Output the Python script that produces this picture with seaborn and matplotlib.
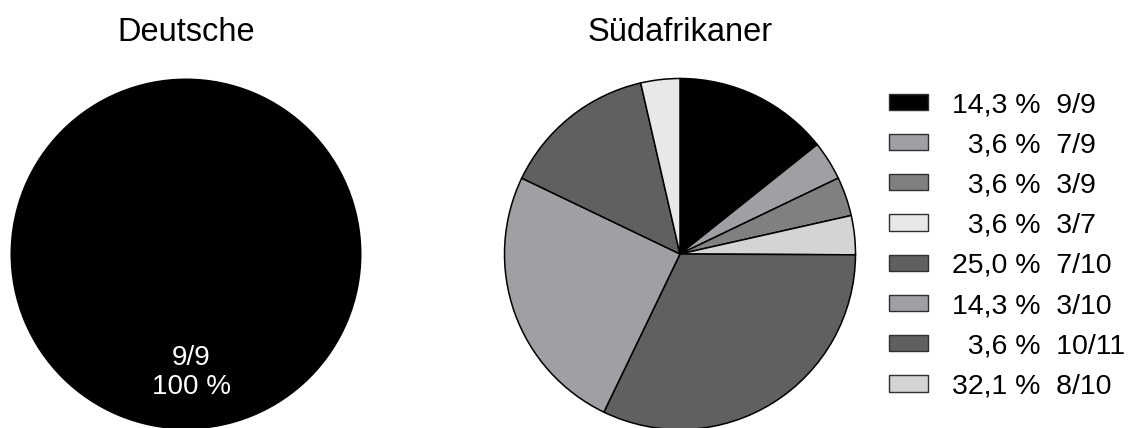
import matplotlib
matplotlib.use("Agg")
import matplotlib.pyplot as plt
from matplotlib.patches import Patch
import seaborn as sns

# Daten
de_values = [100.0]
de_label = "9/9"

sa_values = [14.3, 3.6, 3.6, 3.6, 32.1, 25.0, 14.3, 3.6]
sa_colors = ["#000000", "#a0a0a4", "#808080", "#d4d4d4",
             "#606060", "#a0a0a4", "#606060", "#e8e8e8"]

legend_pct = [14.3, 3.6, 3.6, 3.6, 25.0, 14.3, 3.6, 32.1]
legend_names = ["9/9", "7/9", "3/9", "3/7", "7/10", "3/10", "10/11", "8/10"]
legend_colors = ["#000000", "#a0a0a4", "#808080", "#e8e8e8",
                 "#606060", "#a0a0a4", "#606060", "#d4d4d4"]

sns.set_theme(style="white")
plt.rcParams["font.family"] = ["Liberation Sans", "DejaVu Sans"]
plt.rcParams["text.color"] = "black"

W, H = 1134, 428
fig = plt.figure(figsize=(W / 100, H / 100), dpi=100)

def pie_axes(cx, cy, r):
    # Achse in Pixeln um den Kreismittelpunkt legen
    return fig.add_axes([(cx - r) / W, (H - cy - r) / H, 2 * r / W, 2 * r / H])

# Deutsche
ax1 = pie_axes(186, 254, 175.5)
ax1.pie(de_values, colors=["#000000"], startangle=90, counterclock=False,
        radius=1, wedgeprops=dict(linewidth=0))
pct_txt = f"{de_values[0]:.0f} %"
ax1.text(0.03, -0.675, f"{de_label}\n{pct_txt}", color="white", ha="center",
         va="center", fontsize=20, linespacing=1.15)
ax1.set_xlim(-1, 1)
ax1.set_ylim(-1, 1)
ax1.set_title("Deutsche", fontsize=23.5, pad=27, color="black")

# Südafrikaner
ax2 = pie_axes(680, 254, 175.5)
ax2.pie(sa_values, colors=sa_colors, startangle=90, counterclock=False,
        radius=1, wedgeprops=dict(edgecolor="black", linewidth=1.1))
ax2.set_xlim(-1, 1)
ax2.set_ylim(-1, 1)
ax2.set_title("Südafrikaner", fontsize=23.5, pad=27, color="black")

labels = []
for p, n in zip(legend_pct, legend_names):
    s = f"{p:.1f}".replace(".", ",") + " %"
    if p < 10:
        s = "  " + s  # zwei Leerzeichen = eine Ziffernbreite
    labels.append(f"{s}  {n}")

handles = [Patch(facecolor=c, edgecolor="#303030", linewidth=1) for c in legend_colors]
fig.legend(handles, labels, loc="upper left",
           bbox_to_anchor=(889 / W, (H - 92) / H), frameon=False,
           fontsize=20.5, labelcolor="black", handlelength=1.36, handleheight=0.5,
           handletextpad=0.85, labelspacing=0.5, borderpad=0, borderaxespad=0)

fig.savefig("out.png", dpi=100, facecolor="white")
